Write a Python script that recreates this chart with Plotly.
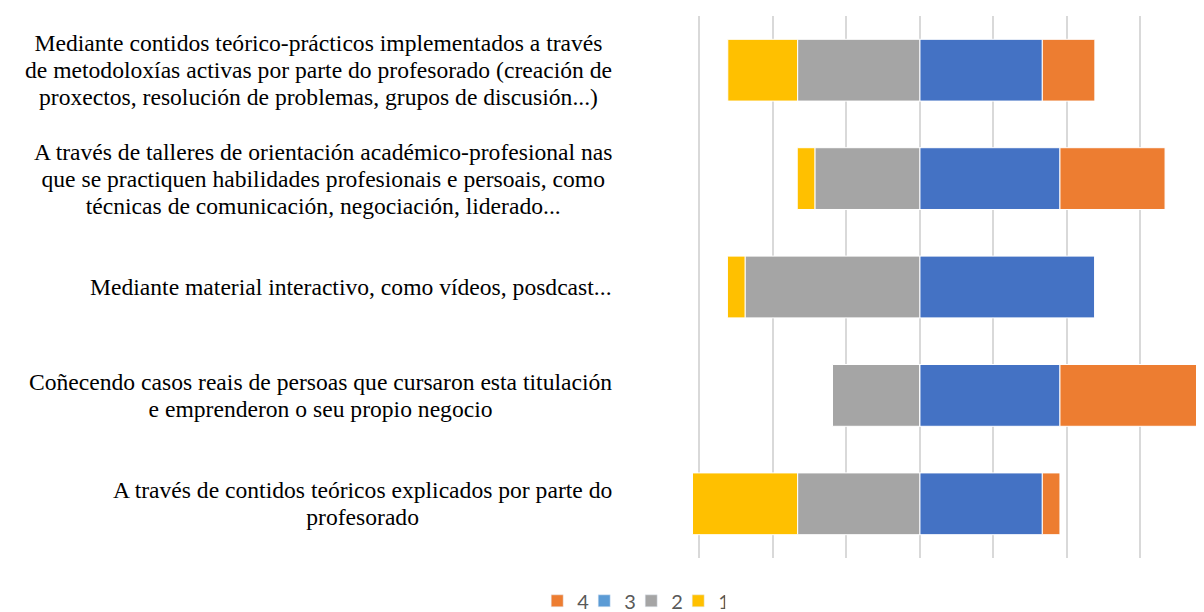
import plotly.graph_objects as go

# Categories, top to bottom (one entry per wrapped line)
categories = [
    ["Mediante contidos teórico-prácticos implementados a través",
     "de metodoloxías activas por parte do profesorado (creación de",
     "proxectos, resolución de problemas, grupos de discusión...)"],
    ["A través de talleres de orientación académico-profesional nas",
     "que se practiquen habilidades profesionais e persoais, como",
     "técnicas de comunicación, negociación, liderado..."],
    ["Mediante material interactivo, como vídeos, posdcast..."],
    ["Coñecendo casos reais de persoas que cursaron esta titulación",
     "e emprenderon o seu propio negocio"],
    ["A través de contidos teóricos explicados por parte do",
     "profesorado"],
]

# Share of answers (%) per rating
val_1 = [19.0, 4.8, 4.8, 0.0, 28.6]
val_2 = [33.3, 28.6, 47.6, 23.8, 33.3]
val_3 = [33.3, 38.1, 47.6, 38.1, 33.3]
val_4 = [14.3, 28.6, 0.0, 38.1, 4.8]

legend_names = ["4", "3", "2", "1"]
legend_colors = ["#ED7D31", "#5B9BD5", "#A5A5A5", "#FFC000"]

keys = list(range(len(categories)))

fig = go.Figure()

# negative side: "2" next to the centre, "1" further out
bar_specs = [
    ([-v for v in val_2], "#A5A5A5"),
    ([-v for v in val_1], "#FFC000"),
    (val_3, "#4472C4"),
    (val_4, "#ED7D31"),
]
for vals, color in bar_specs:
    fig.add_trace(go.Bar(
        y=keys, x=vals, orientation="h",
        marker=dict(color=color, line=dict(color="white", width=1)),
        showlegend=False, hoverinfo="x",
    ))

# legend entries (Excel legend uses a lighter blue for "3")
for name, color in zip(legend_names, legend_colors):
    fig.add_trace(go.Bar(
        y=[None], x=[None], orientation="h", name=name,
        marker=dict(color=color), showlegend=True,
    ))

# category labels: block right-aligned, lines centred.
# line pitch comes from the outer font size (1.3em), glyphs from the inner span
for k, lines in zip(keys, categories):
    text = "<br>".join(f'<span style="font-size:23.6px">{ln}</span>' for ln in lines)
    fig.add_annotation(
        x=-0.021, xref="paper", y=k, yref="y",
        text=text, showarrow=False,
        xanchor="right", yanchor="middle", align="center",
        font=dict(family="Liberation Serif, Times New Roman, serif",
                  size=20.8, color="#000000"),
    )

# page body adds an 8px offset, margins compensate for it
fig.update_layout(
    width=1204, height=640,
    barmode="relative",
    bargap=0.43,
    plot_bgcolor="white",
    paper_bgcolor="white",
    margin=dict(l=618, r=8, t=8, b=90),
    legend=dict(
        orientation="h", x=0.009, xanchor="center", y=-0.079, yanchor="middle",
        font=dict(family="Lato", size=20, color="#595959"),
        traceorder="normal", itemwidth=30, entrywidth=2,
    ),
)

fig.update_xaxes(
    range=[-80, 77.3], tick0=0, dtick=20,
    showgrid=True, gridcolor="#D9D9D9", gridwidth=1.5,
    zeroline=False, showticklabels=False, showline=False, ticks="",
)
fig.update_yaxes(
    autorange="reversed", showticklabels=False, showgrid=False,
    zeroline=False, showline=False, ticks="",
)

fig.write_html("out.html")
